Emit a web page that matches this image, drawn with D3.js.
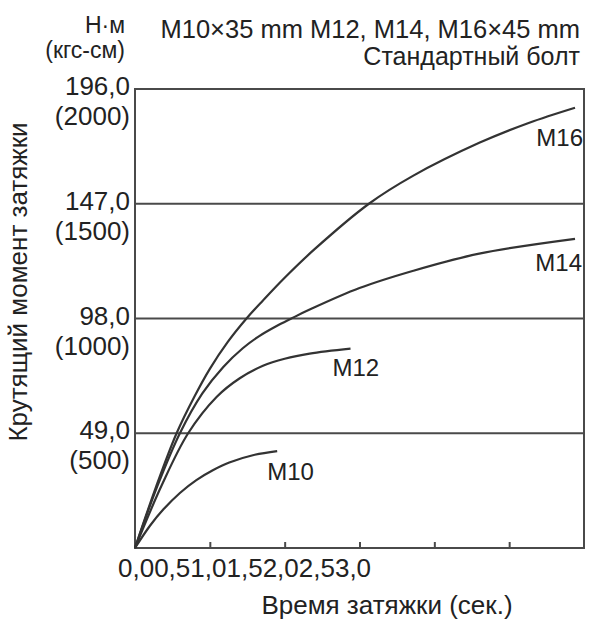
<!DOCTYPE html>
<html>
<head>
<meta charset="utf-8">
<script src="https://cdn.jsdelivr.net/npm/d3@7"></script>
<style>
  html, body { margin: 0; padding: 0; background: #fff; }
  svg { display: block; }
  text { font-family: "Liberation Sans", Arial, sans-serif; fill: #222; }
</style>
</head>
<body>
<svg id="chart" width="590" height="623"></svg>
<script>
// ---------- data ----------
const seriesNames = ["M10", "M12", "M14", "M16"];
const m10Time   = [0, 0.1, 0.19, 0.3, 0.41, 0.52, 0.63, 0.8, 0.95];
const m10Torque = [0, 9.5, 16.5, 23.5, 29, 33.2, 36.5, 39.8, 41.4];
const m12Time   = [0, 0.18, 0.355, 0.545, 0.7, 0.855, 1.0, 1.167, 1.44];
const m12Torque = [0, 27, 49, 64.5, 72.5, 77.8, 80.8, 83, 85.1];
const m14Time   = [0, 0.15, 0.3, 0.45, 0.59, 0.72, 0.83, 0.94, 1.045, 1.167, 1.5, 1.86, 2.3, 2.94];
const m14Torque = [0, 26.5, 49, 66, 77.3, 85.3, 90.5, 94.6, 98, 101.8, 111, 118.4, 125.7, 132];
const m16Time   = [0, 0.14, 0.278, 0.4, 0.5, 0.62, 0.745, 0.855, 1.0, 1.2, 1.563, 1.86, 2.3, 2.63, 2.94];
const m16Torque = [0, 26, 49, 65, 76.5, 88, 98, 105.7, 115.4, 127.6, 147, 159, 173, 181.5, 188];

const yTickValues = [49, 98, 147, 196];
const yTickLabels = ["49,0", "98,0", "147,0", "196,0"];
const yTickLabelsKgf = ["(500)", "(1000)", "(1500)", "(2000)"];
const xTickValues = [0, 0.5, 1.0, 1.5, 2.0, 2.5, 3.0];
const xTickLabels = ["0,0", "0,5", "1,0", "1,5", "2,0", "2,5", "3,0"];

const unitLabel1 = "Н·м";
const unitLabel2 = "(кгс-см)";
const titleLine1 = "M10×35 mm M12, M14, M16×45 mm";
const titleLine2 = "Стандартный болт";
const yTitle = "Крутящий момент затяжки";
const xTitle = "Время затяжки (сек.)";

// ---------- layout / style ----------
const plot = { left: 135, right: 584, top: 89, bottom: 548 };
const labelOffsets = {
  M10: { dx: -10, dy: 29, anchor: "start" },
  M12: { dx: -18, dy: 27, anchor: "start" },
  M14: { dx: 7,  dy: 32, anchor: "end" },
  M16: { dx: 8,  dy: 38, anchor: "end" }
};
const lineColor = "#4a4a4a";
const curveColor = "#333";

const svg = d3.select("#chart");
svg.append("rect").attr("width", 590).attr("height", 623).attr("fill", "#fff");

const x = d3.scaleLinear().domain([0, 3]).range([plot.left, plot.right]);
const y = d3.scaleLinear().domain([0, 196]).range([plot.bottom, plot.top]);

// gridlines
svg.append("g").selectAll("line").data(yTickValues.slice(0, 3)).join("line")
  .attr("x1", plot.left).attr("x2", plot.right)
  .attr("y1", d => y(d)).attr("y2", d => y(d))
  .attr("stroke", lineColor).attr("stroke-width", 2);

// x ticks (inner, pointing up)
const xAxis = d3.axisBottom(x)
  .tickValues(xTickValues.slice(1, -1))
  .tickSizeInner(-6).tickSizeOuter(0).tickFormat("");
const gx = svg.append("g").attr("transform", `translate(0,${plot.bottom})`).call(xAxis);
gx.select(".domain").remove();
gx.selectAll(".tick line").attr("stroke", lineColor).attr("stroke-width", 2);

// frame
svg.append("rect")
  .attr("x", plot.left).attr("y", plot.top)
  .attr("width", plot.right - plot.left).attr("height", plot.bottom - plot.top)
  .attr("fill", "none").attr("stroke", lineColor).attr("stroke-width", 2);

// curves
const series = [
  { name: "M10", t: m10Time, v: m10Torque },
  { name: "M12", t: m12Time, v: m12Torque },
  { name: "M14", t: m14Time, v: m14Torque },
  { name: "M16", t: m16Time, v: m16Torque }
].map(s => ({ name: s.name, pts: s.t.map((t, i) => [t, s.v[i]]) }));

const line = d3.line().x(d => x(d[0])).y(d => y(d[1])).curve(d3.curveCatmullRom.alpha(0.5));
svg.append("g").selectAll("path").data(series).join("path")
  .attr("d", d => line(d.pts))
  .attr("fill", "none").attr("stroke", curveColor).attr("stroke-width", 2.2);

// series labels
svg.append("g").selectAll("text").data(series).join("text")
  .attr("x", d => x(d.pts[d.pts.length - 1][0]) + labelOffsets[d.name].dx)
  .attr("y", d => y(d.pts[d.pts.length - 1][1]) + labelOffsets[d.name].dy)
  .attr("text-anchor", d => labelOffsets[d.name].anchor)
  .attr("font-size", 24)
  .text(d => d.name);

// y tick labels
const yl = svg.append("g");
yl.selectAll("text.v").data(yTickValues).join("text").attr("class", "v")
  .attr("x", 130).attr("y", d => y(d) + 6)
  .attr("text-anchor", "end").attr("font-size", 26)
  .text((d, i) => yTickLabels[i]);
yl.selectAll("text.k").data(yTickValues).join("text").attr("class", "k")
  .attr("x", 130).attr("y", d => y(d) + 36)
  .attr("text-anchor", "end").attr("font-size", 26)
  .text((d, i) => yTickLabelsKgf[i]);

// x tick labels (run together, as in the reference)
const xt = svg.append("text").attr("x", 118).attr("y", 577).attr("font-size", 26);
xt.selectAll("tspan").data(xTickLabels).join("tspan").text(d => d);

// units & titles
svg.append("text").attr("x", 125).attr("y", 33).attr("text-anchor", "end")
  .attr("font-size", 23).text(unitLabel1);
svg.append("text").attr("x", 125).attr("y", 58).attr("text-anchor", "end")
  .attr("font-size", 23).text(unitLabel2);
svg.append("text").attr("x", 580).attr("y", 38).attr("text-anchor", "end")
  .attr("font-size", 25.5).text(titleLine1);
svg.append("text").attr("x", 580).attr("y", 65).attr("text-anchor", "end")
  .attr("font-size", 25).text(titleLine2);

svg.append("text").attr("x", 387).attr("y", 614).attr("text-anchor", "middle")
  .attr("font-size", 26).text(xTitle);
svg.append("text")
  .attr("transform", "translate(27,282) rotate(-90)")
  .attr("text-anchor", "middle").attr("font-size", 26).text(yTitle);
</script>
</body>
</html>
